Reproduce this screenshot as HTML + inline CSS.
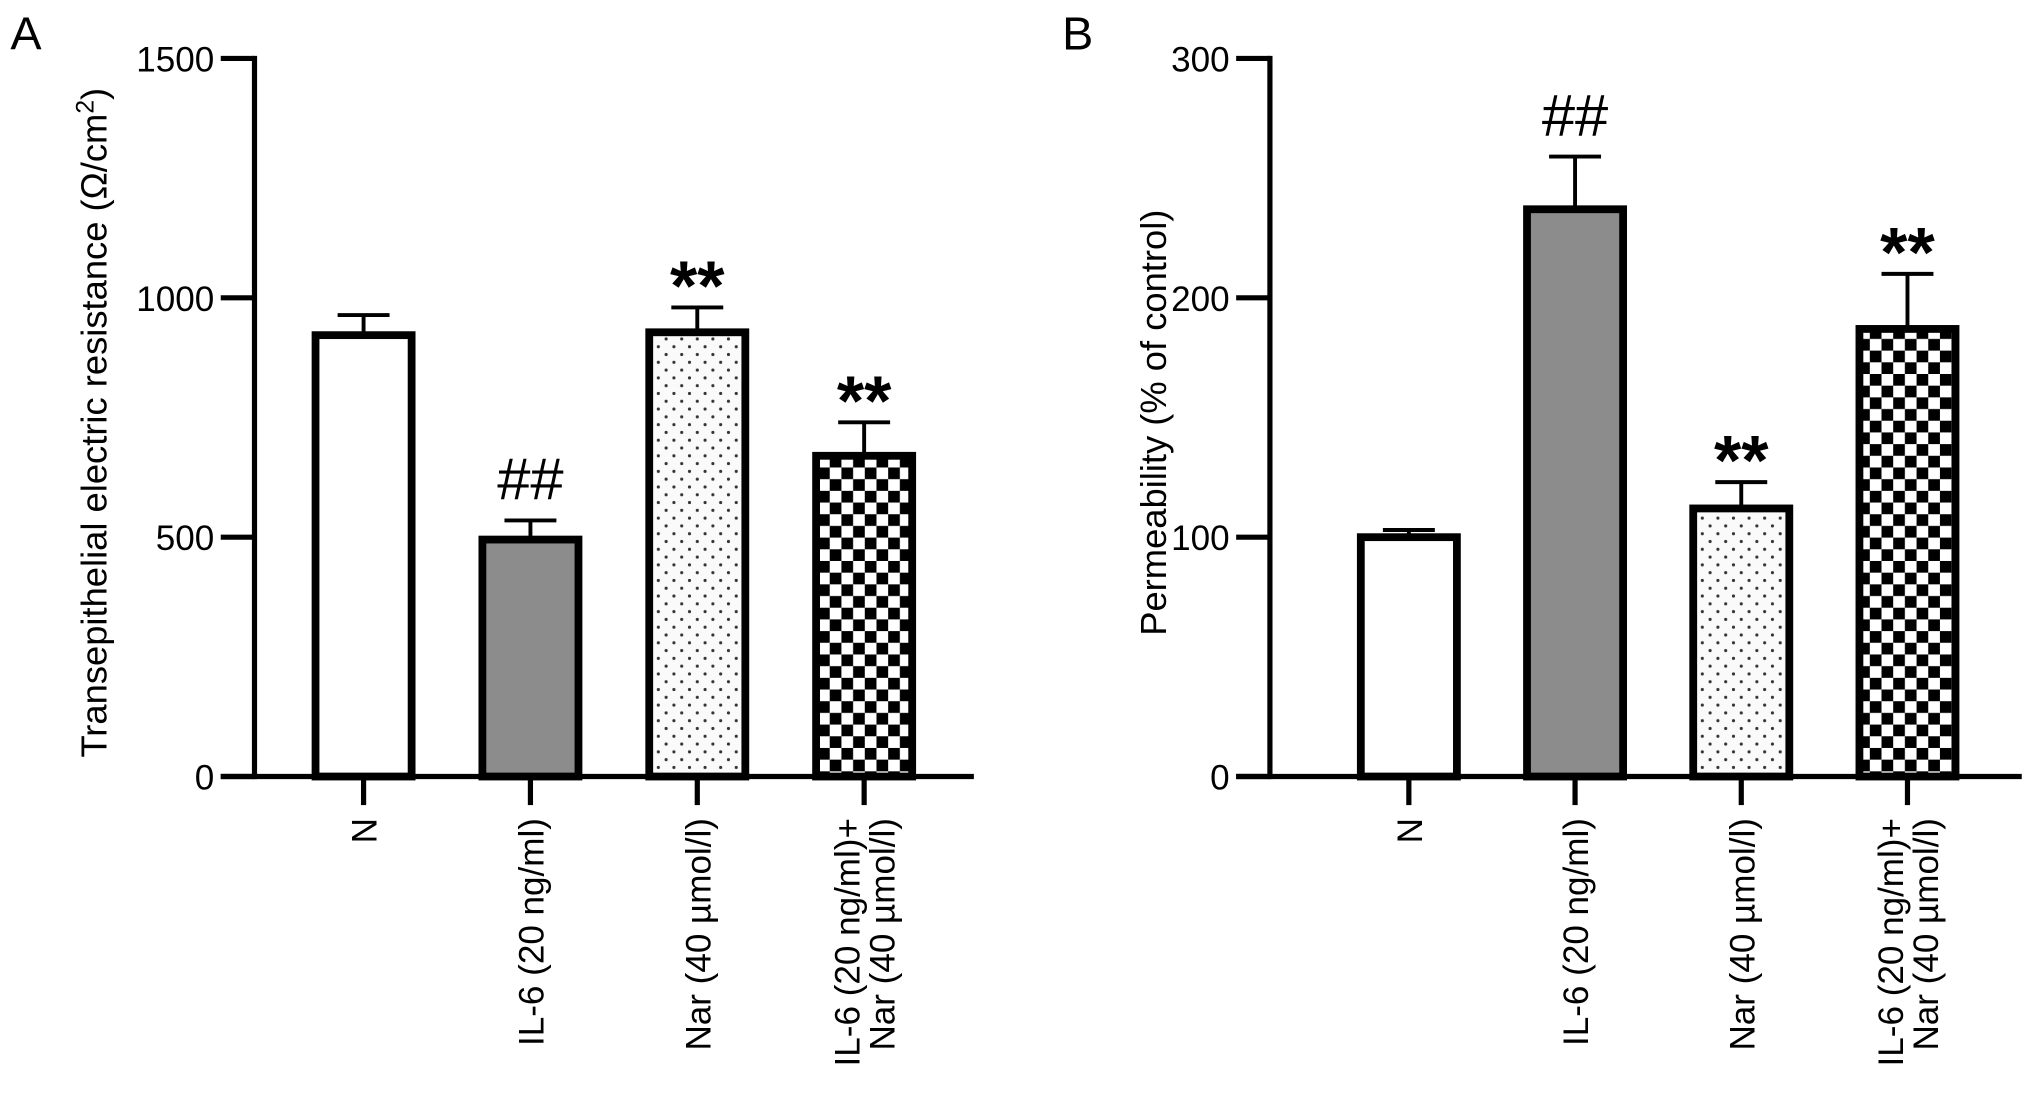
<!DOCTYPE html>
<html><head><meta charset="utf-8"><style>
html,body{margin:0;padding:0;background:#fff}
svg{display:block;font-family:"Liberation Sans",Arial,sans-serif}
</style></head><body>
<svg id="fig" width="2032" height="1093" viewBox="0 0 1564.9 841.7" xmlns="http://www.w3.org/2000/svg">
<defs>
<pattern id="dots" width="12" height="12" patternUnits="userSpaceOnUse"><rect width="12" height="12" fill="#fafafa"/><circle cx="3" cy="3" r="1.2" fill="#333"/><circle cx="9" cy="9" r="1.2" fill="#333"/></pattern>
<pattern id="check" width="18" height="18" patternUnits="userSpaceOnUse"><rect width="18" height="18" fill="#fff"/><rect width="9" height="9" fill="#000"/><rect x="9" y="9" width="9" height="9" fill="#000"/></pattern>
</defs>
<g id="panelA"></g>
<g id="panelB"></g>
</svg>
<script>
const categories = ["N", "IL-6 (20 ng/ml)", "Nar (40 µmol/l)", "IL-6 (20 ng/ml)+|Nar (40 µmol/l)"];
const valuesA = [922, 495, 928, 670];
const errorsA = [42, 40, 52, 70];
const marksA = ["", "##", "**", "**"];
const ticksA = [0, 500, 1000, 1500];
const valuesB = [100, 237, 112, 187];
const errorsB = [3, 22, 11, 23];
const marksB = ["", "##", "**", "**"];
const ticksB = [0, 100, 200, 300];
const fills = ["#fff", "#8c8c8c", "url(#dots)", "url(#check)"];

const NS = "http://www.w3.org/2000/svg";
function mk(parent, tag, attrs, text) {
  const e = document.createElementNS(NS, tag);
  for (const k in attrs) e.setAttribute(k, attrs[k]);
  if (text !== undefined) e.textContent = text;
  parent.appendChild(e);
  return e;
}
function drawPanel(g, cfg) {
  const y0 = 598, yTop = 45;
  const ys = v => y0 - (v / cfg.max) * (y0 - yTop);
  const xs = i => cfg.x0 + i * cfg.step;
  const letter = mk(g, "text", {x: cfg.letterX, y: 38, "font-size": 36}, cfg.letter);
  
  
  const yl = mk(g, "text", {transform: `translate(${cfg.titleX},${(y0 + yTop) / 2 + 4}) rotate(-90)`, "text-anchor": "middle", "font-size": 28}, "");
  
  
  if (cfg.sup) {
    yl.appendChild(document.createTextNode("Transepithelial electric resistance (Ω/cm"));
    mk(yl, "tspan", {dy: -10, "font-size": 19}, "2");
    mk(yl, "tspan", {dy: 10}, ")");
  } else yl.textContent = cfg.ytitle;
  cfg.ticks.forEach(t => {
    const tl = mk(g, "line", {x1: cfg.axX - 26, x2: cfg.axX, y1: ys(t), y2: ys(t), stroke: "#000", "stroke-width": 4});
    
    
    const tx = mk(g, "text", {x: cfg.axX - 31, y: ys(t) + 10, "text-anchor": "end", "font-size": 27}, String(t));
    
    
  });
  cfg.values.forEach((v, i) => {
    const cx = xs(i), w = 74;
    const top = ys(v), et = ys(v + cfg.errors[i]);
    const el = mk(g, "line", {x1: cx, x2: cx, y1: top, y2: et, stroke: "#000", "stroke-width": 3});
    
    
    const ec = mk(g, "line", {x1: cx - 20, x2: cx + 20, y1: et, y2: et, stroke: "#000", "stroke-width": 3});
    
    
    const b = mk(g, "rect", {x: cx - w / 2, y: top, width: w, height: y0 - top, fill: fills[i], stroke: "#000", "stroke-width": 6});
    
    
    const xt = mk(g, "line", {x1: cx, x2: cx, y1: y0, y2: y0 + 22, stroke: "#000", "stroke-width": 4});
    
    
    const m = cfg.marks[i];
    if (m) {
      const isHash = m === "##";
      const mt = mk(g, "text", {x: cx, y: et - (isHash ? 16 : -2), "text-anchor": "middle", "font-size": isHash ? 46 : 54, "font-weight": isHash ? "normal" : "bold"}, m);
      
      
    }
    const lines = categories[i].split("|");
    lines.forEach((ln, j) => {
      const off = (j - (lines.length - 1) / 2) * 27 + 10;
      const ct = mk(g, "text", {transform: `translate(${cx + off},${y0 + 32}) rotate(-90)`, "text-anchor": "end", "font-size": 27}, ln);
      
      
    });
  });
  const ax = mk(g, "line", {x1: cfg.axX, x2: cfg.axX, y1: yTop - 2, y2: y0 + 2, stroke: "#000", "stroke-width": 4});
  
  
  const xa = mk(g, "line", {x1: cfg.axX - 26, x2: cfg.xEnd, y1: y0, y2: y0, stroke: "#000", "stroke-width": 4});
  
  
}
drawPanel(document.getElementById("panelA"), {letter: "A", letterX: 8, axX: 196, titleX: 82, xEnd: 750, x0: 280, step: 128.5, max: 1500, ticks: ticksA, values: valuesA, errors: errorsA, marks: marksA, sup: true});
drawPanel(document.getElementById("panelB"), {letter: "B", letterX: 818, axX: 978, titleX: 898, xEnd: 1557, x0: 1085, step: 128, max: 300, ticks: ticksB, values: valuesB, errors: errorsB, marks: marksB, ytitle: "Permeability (% of control)"});
</script>
</body></html>
